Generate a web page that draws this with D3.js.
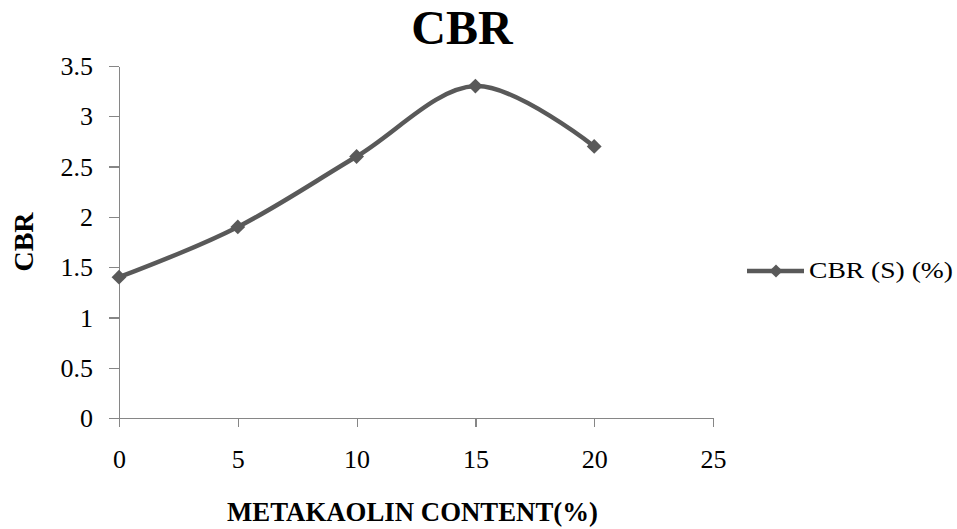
<!DOCTYPE html>
<meta charset="utf-8">
<style>
body { margin: 0; background: #fff; }
text { font-family: "Liberation Serif", "Times New Roman", serif; fill: #000; }
.axis path, .axis line { stroke: #868686; stroke-width: 1.2; shape-rendering: crispEdges; }
</style>
<body>
<script src="https://d3js.org/d3.v7.min.js"></script>
<script>
// metakaolin content (%) and measured CBR
var content = [0, 5, 10, 15, 20];
var cbr = [1.4, 1.9, 2.6, 3.3, 2.7];
var xTicks = [0, 5, 10, 15, 20, 25];
var yTicks = [0, 0.5, 1, 1.5, 2, 2.5, 3, 3.5];
var seriesName = "CBR (S) (%)";

var width = 957, height = 529;
var margin = {top: 66, left: 119, right: 244, bottom: 111};

var svg = d3.select("body").append("svg")
  .attr("width", width)
  .attr("height", height);

var x = d3.scaleLinear().domain([0, 25]).range([margin.left, width - margin.right]);
var y = d3.scaleLinear().domain([0, 3.5]).range([height - margin.bottom, margin.top]);

var xAxis = svg.append("g")
  .attr("class", "axis")
  .attr("transform", "translate(0," + y(0) + ")")
  .call(d3.axisBottom(x).tickValues(xTicks).tickSize(9).tickPadding(41).tickSizeOuter(0));
xAxis.selectAll("text")
  .attr("dy", 0)
  .style("font-family", "'Liberation Serif', serif")
  .style("font-size", "26px");

var yAxis = svg.append("g")
  .attr("class", "axis")
  .attr("transform", "translate(" + x(0) + ",0)")
  .call(d3.axisLeft(y).tickValues(yTicks).tickSize(10).tickPadding(16).tickSizeOuter(0)
    .tickFormat(d3.format("")));
yAxis.selectAll("text")
  .attr("dy", "0.33em")
  .style("font-family", "'Liberation Serif', serif")
  .style("font-size", "26px");

var pts = content.map(function(d, i) { return [x(d), y(cbr[i])]; });

var line = d3.line().curve(d3.curveCardinal.tension(0));

svg.append("path")
  .attr("d", line(pts))
  .attr("fill", "none")
  .attr("stroke", "#595959")
  .attr("stroke-width", 4.5);

var diamond = d3.symbol().type(d3.symbolDiamond2).size(140);

svg.selectAll(".pt")
  .data(pts)
  .enter().append("path")
  .attr("class", "pt")
  .attr("transform", function(d) { return "translate(" + d[0] + "," + d[1] + ")"; })
  .attr("d", diamond)
  .attr("fill", "#595959");

// title
svg.append("text")
  .attr("x", 462).attr("y", 44)
  .attr("text-anchor", "middle")
  .style("font-size", "48px").style("font-weight", "bold")
  .text("CBR");

// axis titles
svg.append("text")
  .attr("transform", "translate(33,242) rotate(-90)")
  .attr("text-anchor", "middle")
  .style("font-size", "28px").style("font-weight", "bold")
  .text("CBR");

svg.append("text")
  .attr("x", 227).attr("y", 521)
  .attr("textLength", 371)
  .attr("lengthAdjust", "spacingAndGlyphs")
  .style("font-size", "27px").style("font-weight", "bold")
  .text("METAKAOLIN CONTENT(%)");

// legend
var lg = svg.append("g").attr("transform", "translate(747,271)");
lg.append("line").attr("x1", 0).attr("x2", 57).attr("y1", 0).attr("y2", 0)
  .attr("stroke", "#595959").attr("stroke-width", 4.5);
lg.append("path").attr("transform", "translate(29,0)")
  .attr("d", d3.symbol().type(d3.symbolDiamond2).size(110)).attr("fill", "#595959");
lg.append("text").attr("x", 62).attr("y", 7)
  .attr("textLength", 144)
  .attr("lengthAdjust", "spacingAndGlyphs")
  .style("font-size", "24px")
  .text(seriesName);
</script>
</body>
